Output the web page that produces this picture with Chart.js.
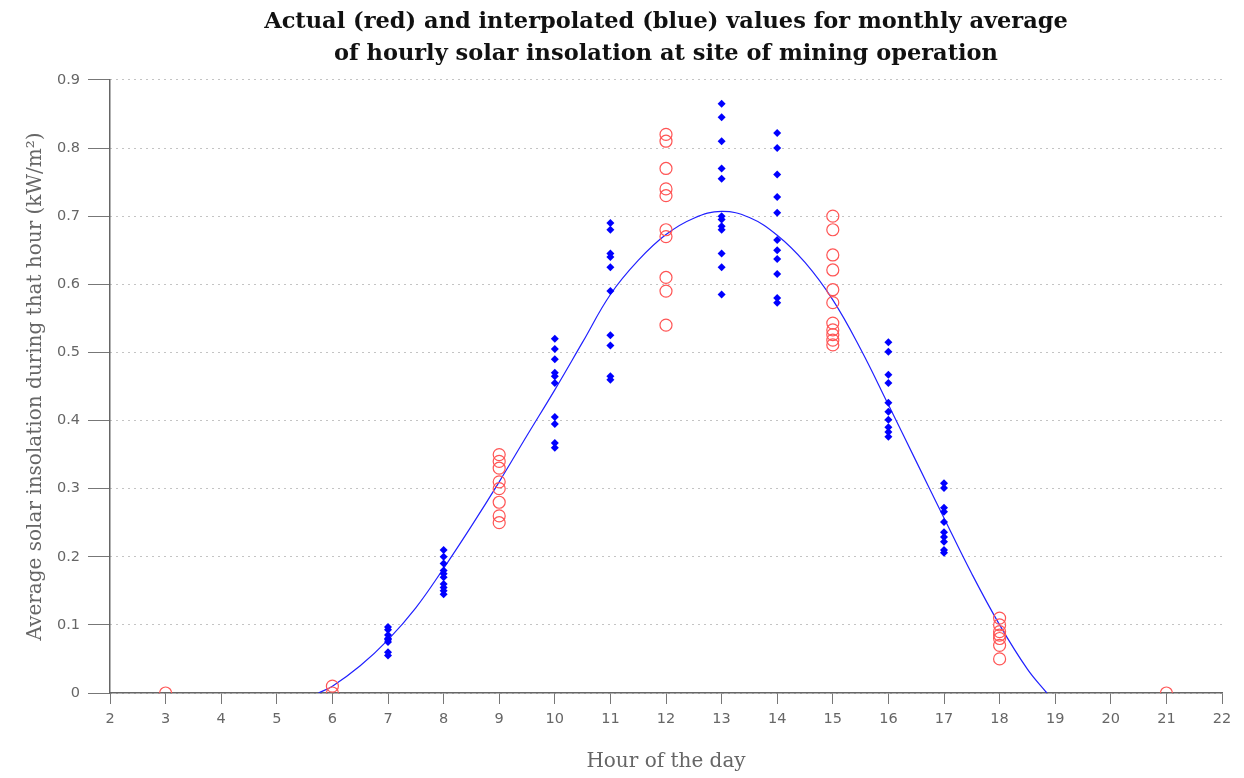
<!DOCTYPE html>
<html>
<head>
<meta charset="utf-8">
<script src="https://cdn.jsdelivr.net/npm/chart.js@4"></script>
<style>
  body { margin: 0; background: #fff; }
  #wrap { width: 1244px; height: 778px; }
</style>
</head>
<body>
<div id="wrap"><canvas id="solar"></canvas></div>
<script>
// actual measurements (red circles)
const actualHours = [3, 6, 9, 12, 15, 18, 21];
const actualValues = [
  [0],
  [0.01, 0],
  [0.35, 0.34, 0.33, 0.31, 0.30, 0.28, 0.26, 0.25],
  [0.82, 0.81, 0.77, 0.74, 0.73, 0.68, 0.67, 0.61, 0.59, 0.54],
  [0.70, 0.68, 0.643, 0.621, 0.592, 0.573, 0.543, 0.533, 0.526, 0.518, 0.511],
  [0.11, 0.10, 0.09, 0.085, 0.08, 0.07, 0.05],
  [0]
];

// interpolated values (blue diamonds)
const interpHours = [7, 8, 10, 11, 13, 14, 16, 17];
const interpValues = [
  [0.097, 0.093, 0.085, 0.08, 0.078, 0.075, 0.06, 0.055],
  [0.21, 0.20, 0.19, 0.18, 0.175, 0.17, 0.16, 0.155, 0.15, 0.145],
  [0.52, 0.505, 0.49, 0.47, 0.465, 0.455, 0.405, 0.395, 0.367, 0.36],
  [0.69, 0.68, 0.645, 0.64, 0.625, 0.59, 0.525, 0.51, 0.465, 0.46],
  [0.865, 0.845, 0.81, 0.77, 0.755, 0.70, 0.695, 0.685, 0.68, 0.645, 0.625, 0.585],
  [0.822, 0.80, 0.761, 0.728, 0.705, 0.665, 0.65, 0.637, 0.615, 0.58, 0.573],
  [0.515, 0.501, 0.467, 0.455, 0.426, 0.413, 0.401, 0.39, 0.383, 0.376],
  [0.308, 0.301, 0.272, 0.266, 0.251, 0.236, 0.229, 0.222, 0.21, 0.206]
];

// fitted curve
const curveHours  = [5.75, 6, 6.5, 7, 7.5, 8, 8.5, 9, 9.5, 10, 10.5, 11, 11.5, 12, 12.5, 13, 13.5, 14, 14.5, 15, 15.5, 16, 16.5, 17, 17.5, 18, 18.5, 18.85];
const curveValues = [0, 0.01, 0.04, 0.078, 0.125, 0.183, 0.245, 0.31, 0.378, 0.445, 0.515, 0.585, 0.635, 0.673, 0.697, 0.707, 0.698, 0.672, 0.632, 0.577, 0.505, 0.423, 0.34, 0.257, 0.175, 0.10, 0.035, 0];

const xTicksMin = 2, xTicksMax = 22;
const yTicksMin = 0, yTicksMax = 0.9;

function flatten(hours, values) {
  let pts = [];
  for (let i = 0; i < hours.length; i++) {
    for (let j = 0; j < values[i].length; j++) {
      pts.push({ x: hours[i], y: values[i][j] });
    }
  }
  return pts;
}

let curve = curveHours.map((h, i) => ({ x: h, y: curveValues[i] }));

// centre the title over the plot area instead of the whole canvas
const centreTitle = {
  id: 'centreTitle',
  afterLayout(chart) {
    let t = chart.titleBlock;
    if (t) {
      t.left = chart.chartArea.left;
      t.right = chart.chartArea.right;
    }
  }
};

let ctx = document.getElementById("solar").getContext('2d');
let chart = new Chart(ctx, {
  type: 'scatter',
  data: {
    datasets: [
      {
        label: 'curve',
        data: curve,
        showLine: true,
        borderColor: '#2020ff',
        borderWidth: 1.2,
        pointRadius: 0,
        tension: 0.4,
        order: 3
      },
      {
        label: 'interpolated',
        data: flatten(interpHours, interpValues),
        pointStyle: 'rectRot',
        pointRadius: 4,
        backgroundColor: '#0000ff',
        borderColor: '#0000ff',
        borderWidth: 0,
        order: 2
      },
      {
        label: 'actual',
        data: flatten(actualHours, actualValues),
        pointStyle: 'circle',
        pointRadius: 6,
        backgroundColor: 'rgba(0,0,0,0)',
        borderColor: '#ff5555',
        borderWidth: 1.2,
        order: 1
      }
    ]
  },
  plugins: [centreTitle],
  options: {
    responsive: true,
    maintainAspectRatio: false,
    animation: false,
    layout: { padding: { left: 0, right: 22, top: 0, bottom: 0 } },
    plugins: {
      legend: { display: false },
      tooltip: { enabled: false },
      title: {
        display: true,
        text: ['Actual (red) and interpolated (blue) values for monthly average', 'of hourly solar insolation at site of mining operation'],
        color: '#111',
        font: { family: 'DejaVu Serif', size: 22.5, weight: 'bold', lineHeight: 1.42 },
        padding: { top: 6, bottom: 10 }
      }
    },
    scales: {
      x: {
        type: 'linear',
        min: xTicksMin,
        max: xTicksMax,
        ticks: { stepSize: 1, color: '#666', font: { family: 'DejaVu Sans', size: 14.5 }, padding: 7 },
        grid: { drawOnChartArea: false, tickLength: 11, tickColor: '#777', color: '#777' },
        border: { color: '#666', width: 1.5 },
        title: { display: true, text: 'Hour of the day', color: '#666', font: { family: 'DejaVu Serif', size: 20 }, padding: { top: 10 } },
        afterFit: function (scale) { scale.height = 85; }
      },
      y: {
        min: yTicksMin,
        max: yTicksMax,
        ticks: {
          stepSize: 0.1,
          color: '#666',
          font: { family: 'DejaVu Sans', size: 14.5 },
          padding: 8,
          callback: v => v === 0 ? '0' : v.toFixed(1)
        },
        grid: { color: '#888', lineWidth: 1, tickLength: 22, tickColor: '#777', tickBorderDash: [] },
        border: { color: '#666', width: 1.5, dash: [1, 5] },
        title: { display: true, text: 'Average solar insolation during that hour (kW/m²)', color: '#666', font: { family: 'DejaVu Serif', size: 20 }, padding: { top: 24, bottom: 2 } },
        afterFit: function (scale) { scale.width = 110; }
      }
    }
  }
});
</script>
</body>
</html>
